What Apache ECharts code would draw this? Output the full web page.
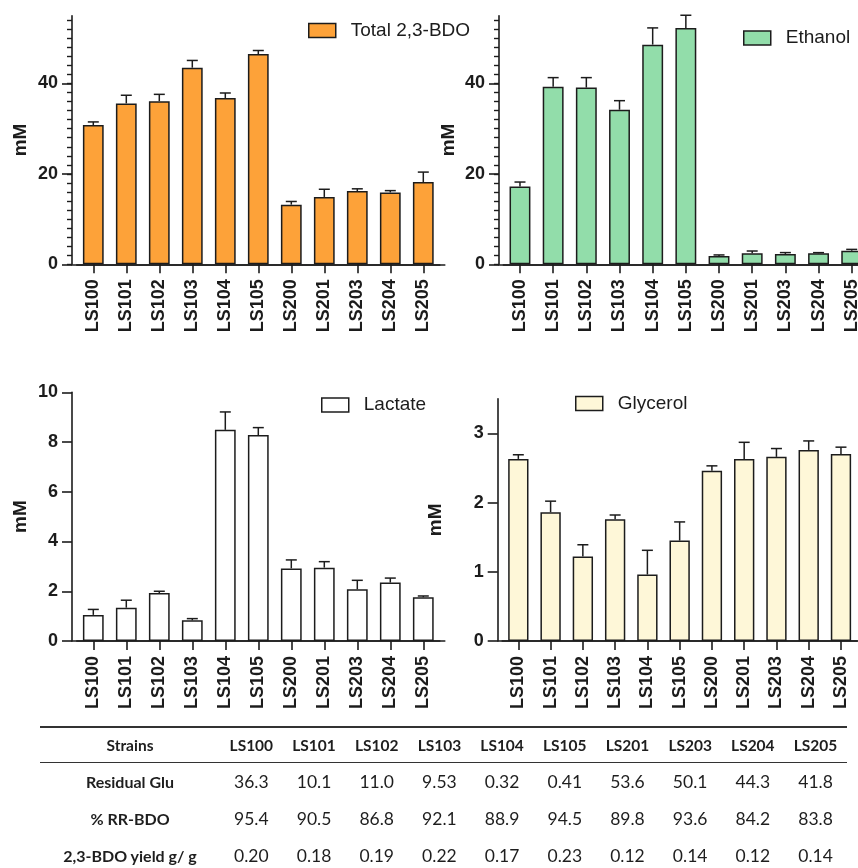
<!DOCTYPE html>
<html>
<head>
<meta charset="utf-8">
<title>2,3-BDO fermentation products by strain</title>
<script src="https://cdn.jsdelivr.net/npm/echarts@6/dist/echarts.min.js"></script>
<style>
  html, body { margin: 0; padding: 0; background: #fff; }
  #wrap { position: relative; width: 858px; height: 868px; overflow: hidden; }
  #chart { position: absolute; left: 0; top: 0; width: 858px; height: 868px; }
  #tbl {
    position: absolute; left: 40px; top: 726px;
    border-collapse: collapse; table-layout: fixed;
    font-family: Lato, "Open Sans", sans-serif;
    color: #1e1e1e;
    border-top: 2px solid #333;
  }
  #tbl td, #tbl th { padding: 0; text-align: center; white-space: nowrap; }
  #tbl thead th { height: 34px; font-weight: bold; font-size: 15.5px; border-bottom: 1.5px solid #333; }
  #tbl tbody td { height: 37px; font-size: 17.5px; }
  #tbl tbody td.lab { font-weight: bold; font-size: 16px; }
</style>
</head>
<body>
<div id="wrap">
  <div id="chart"></div>
  <table id="tbl"><colgroup id="cols"></colgroup><thead></thead><tbody></tbody></table>
</div>
<script>
// Strains on every bar chart
const strains = ['LS100', 'LS101', 'LS102', 'LS103', 'LS104', 'LS105', 'LS200', 'LS201', 'LS203', 'LS204', 'LS205'];

// Mean concentrations (mM) and standard deviations
const bdoMean      = [30.8, 35.6, 36.1, 43.5, 36.8, 46.5, 13.2, 14.9, 16.2, 15.9, 18.2];
const bdoSd        = [0.7, 1.8, 1.5, 1.6, 1.1, 0.8, 0.7, 1.7, 0.5, 0.4, 2.2];
const ethanolMean  = [17.2, 39.3, 39.1, 34.2, 48.6, 52.3, 1.85, 2.44, 2.29, 2.44, 3.0];
const ethanolSd    = [1.0, 2.0, 2.2, 2.0, 3.7, 2.8, 0.22, 0.5, 0.3, 0.14, 0.3];
const lactateMean  = [1.05, 1.34, 1.93, 0.83, 8.49, 8.28, 2.92, 2.95, 2.08, 2.35, 1.76];
const lactateSd    = [0.22, 0.30, 0.07, 0.07, 0.72, 0.30, 0.34, 0.24, 0.36, 0.18, 0.05];
const glycerolMean = [2.63, 1.86, 1.22, 1.76, 0.96, 1.45, 2.46, 2.63, 2.66, 2.76, 2.70];
const glycerolSd   = [0.06, 0.16, 0.17, 0.06, 0.35, 0.27, 0.07, 0.24, 0.12, 0.13, 0.10];

// Y-axis tick labels
const bdoTicks      = [0, 20, 40];
const ethanolTicks  = [0, 20, 40];
const lactateTicks  = [0, 2, 4, 6, 8, 10];
const glycerolTicks = [0, 1, 2, 3];

// Summary table
const tableHeader  = 'Strains';
const tableStrains = ['LS100', 'LS101', 'LS102', 'LS103', 'LS104', 'LS105', 'LS201', 'LS203', 'LS204', 'LS205'];
const rowLabels    = ['Residual Glu', '% RR-BDO', '2,3-BDO yield g/ g'];
const residualGlu  = ['36.3', '10.1', '11.0', '9.53', '0.32', '0.41', '53.6', '50.1', '44.3', '41.8'];
const rrBdo        = ['95.4', '90.5', '86.8', '92.1', '88.9', '94.5', '89.8', '93.6', '84.2', '83.8'];
const bdoYield     = ['0.20', '0.18', '0.19', '0.22', '0.17', '0.23', '0.12', '0.14', '0.12', '0.14'];

const INK = '#1c1c1c';
const FONT = '"Liberation Sans", Arial, sans-serif';

// Layout of the four panels (pixels)
const panels = [
  { name: 'Total 2,3-BDO', mean: bdoMean, sd: bdoSd, color: '#FDA239', ticks: bdoTicks, minorStep: 2,
    max: 55, axisX: 72, bandL: 76.8, bandW: 363, top: 15.7, bottom: 264.3, nameGap: 42,
    legendLeft: 308, legendMid: 31 },
  { name: 'Ethanol', mean: ethanolMean, sd: ethanolSd, color: '#92DDAA', ticks: ethanolTicks, minorStep: 2,
    max: 55, axisX: 499, bandL: 503.4, bandW: 364.9, top: 15.7, bottom: 264.3, nameGap: 41,
    legendLeft: 743, legendMid: 38.5 },
  { name: 'Lactate', mean: lactateMean, sd: lactateSd, color: '#ffffff', ticks: lactateTicks, minorStep: 0,
    max: 10, axisX: 72, bandL: 76.8, bandW: 363, top: 392.3, bottom: 641, nameGap: 42,
    legendLeft: 321, legendMid: 405.5 },
  { name: 'Glycerol', mean: glycerolMean, sd: glycerolSd, color: '#FEF7D8', ticks: glycerolTicks, minorStep: 0,
    max: 3.5, axisX: 497.7, bandL: 502.2, bandW: 354.9, top: 398.7, bottom: 641, nameGap: 52,
    legendLeft: 575, legendMid: 404 }
];

const option = {
  animation: false,
  backgroundColor: '#fff',
  grid: [], xAxis: [], yAxis: [], series: [], legend: []
};

const axisLine = { show: true, lineStyle: { color: INK, width: 1.6 } };

panels.forEach(function (p) {
  const h = p.bottom - p.top;
  const frameGrid = option.grid.length;
  option.grid.push({ left: p.axisX, top: p.top, width: p.bandL + p.bandW + 5 - p.axisX, height: h,
                     containLabel: false, outerBoundsMode: 'none' });
  const barGrid = option.grid.length;
  option.grid.push({ left: p.bandL, top: p.top, width: p.bandW, height: h,
                     containLabel: false, outerBoundsMode: 'none' });

  // Frame: x baseline spanning the whole panel, y axis with ticks and labels
  option.xAxis.push({ gridIndex: frameGrid, type: 'value', min: 0, max: 1, axisLine: axisLine,
                      axisTick: { show: false }, axisLabel: { show: false }, splitLine: { show: false } });
  option.yAxis.push({
    gridIndex: frameGrid, type: 'value', position: 'left', min: 0, max: p.max,
    name: 'mM', nameLocation: 'middle', nameRotate: 90, nameGap: p.nameGap,
    nameTextStyle: { fontFamily: FONT, fontWeight: 'bold', fontSize: 19, color: INK },
    axisLine: axisLine,
    axisTick: { show: true, length: 10, customValues: p.ticks, lineStyle: { color: INK, width: 1.6 } },
    axisLabel: { customValues: p.ticks, margin: 14, fontFamily: FONT, fontWeight: 'bold', fontSize: 18, color: INK },
    splitLine: { show: false }
  });
  if (p.minorStep) {
    const minor = [];
    for (let v = 0; v <= p.max; v += p.minorStep) minor.push(v);
    option.yAxis.push({
      gridIndex: frameGrid, type: 'value', position: 'left', min: 0, max: p.max,
      axisLine: { show: false },
      axisTick: { show: true, length: 5, customValues: minor, lineStyle: { color: INK, width: 1.4 } },
      axisLabel: { show: false }, splitLine: { show: false }
    });
  }

  // Bars: category axis with strain labels
  const xi = option.xAxis.length;
  option.xAxis.push({
    gridIndex: barGrid, type: 'category', data: strains, boundaryGap: true,
    axisLine: axisLine,
    axisTick: { show: true, alignWithLabel: true, length: 9, lineStyle: { color: INK, width: 1.6 } },
    axisLabel: { interval: 0, rotate: 90, margin: 15, fontFamily: FONT, fontWeight: 'bold', fontSize: 18, color: INK },
    splitLine: { show: false }
  });
  const yi = option.yAxis.length;
  option.yAxis.push({ gridIndex: barGrid, type: 'value', min: 0, max: p.max, show: false, splitLine: { show: false } });

  option.series.push({
    type: 'bar', name: p.name, xAxisIndex: xi, yAxisIndex: yi,
    data: p.mean, barWidth: '63%',
    itemStyle: { color: p.color, borderColor: INK, borderWidth: 1.5 },
    z: 2
  });
  option.series.push({
    type: 'custom', name: p.name + ' SD', xAxisIndex: xi, yAxisIndex: yi, z: 3, clip: false,
    encode: { x: 0, y: [1, 2] },
    data: p.mean.map(function (m, i) { return [i, m, m + p.sd[i]]; }),
    renderItem: function (params, api) {
      const base = api.coord([api.value(0), api.value(1)]);
      const tip = api.coord([api.value(0), api.value(2)]);
      const hw = 5.5;
      const st = { stroke: INK, lineWidth: 1.5 };
      return { type: 'group', children: [
        { type: 'line', shape: { x1: base[0], y1: base[1], x2: tip[0], y2: tip[1] }, style: st },
        { type: 'line', shape: { x1: tip[0] - hw, y1: tip[1], x2: tip[0] + hw, y2: tip[1] }, style: st }
      ] };
    }
  });

  option.legend.push({
    data: [p.name], left: p.legendLeft, top: p.legendMid - 10, padding: 0,
    itemWidth: 27, itemHeight: 14, selectedMode: false, icon: 'rect',
    itemStyle: { borderColor: INK, borderWidth: 1.5 },
    textStyle: { fontFamily: FONT, fontSize: 19, color: INK, padding: [0, 0, 0, 10] }
  });
});

const chart = echarts.init(document.getElementById('chart'), null, { renderer: 'canvas' });
chart.setOption(option);

// Summary table below the charts
(function buildTable() {
  const cols = document.getElementById('cols');
  const c = document.createElement('col'); c.style.width = '180px'; cols.appendChild(c);
  tableStrains.forEach(function () { const k = document.createElement('col'); k.style.width = '62.7px'; cols.appendChild(k); });
  const thead = document.querySelector('#tbl thead');
  const hr = document.createElement('tr');
  [tableHeader].concat(tableStrains).forEach(function (t) {
    const th = document.createElement('th'); th.textContent = t; hr.appendChild(th);
  });
  thead.appendChild(hr);
  const tbody = document.querySelector('#tbl tbody');
  [residualGlu, rrBdo, bdoYield].forEach(function (row, r) {
    const tr = document.createElement('tr');
    const lab = document.createElement('td'); lab.className = 'lab'; lab.textContent = rowLabels[r]; tr.appendChild(lab);
    row.forEach(function (v) { const td = document.createElement('td'); td.textContent = v; tr.appendChild(td); });
    tbody.appendChild(tr);
  });
})();
</script>
</body>
</html>
